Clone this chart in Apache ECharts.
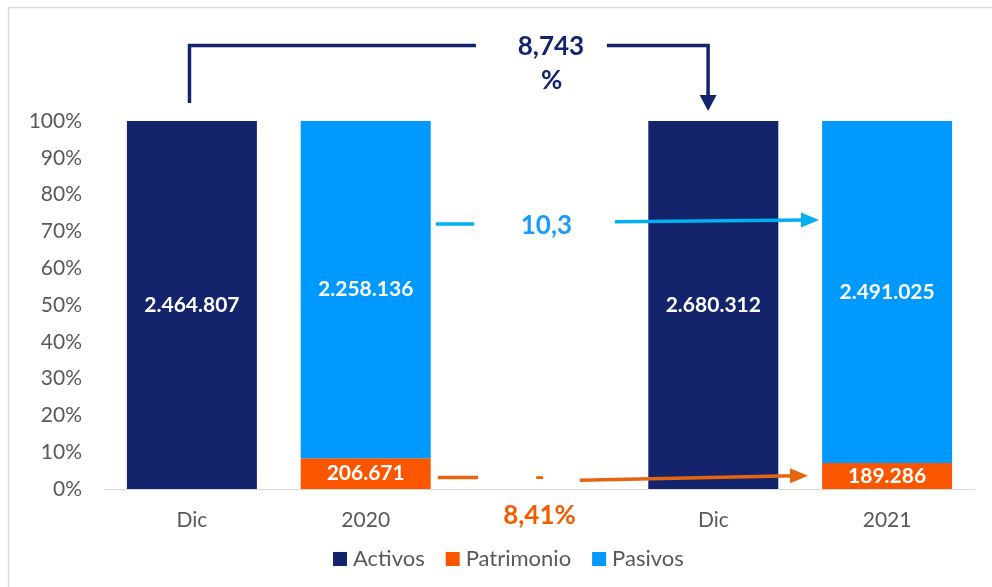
<!DOCTYPE html>
<html>
<head>
<meta charset="utf-8">
<script src="https://cdn.jsdelivr.net/npm/echarts@6/dist/echarts.min.js"></script>
<style>
  html, body { margin: 0; padding: 0; background: #fff; }
  #chart { width: 992px; height: 587px; }
</style>
</head>
<body>
<div id="chart"></div>
<script>
const categories = ["Dic", "2020", "", "Dic", "2021"];
const activos = [2464807, null, null, 2680312, null];
const patrimonio = [null, 206671, null, null, 189286];
const pasivos = [null, 2258136, null, null, 2491025];
const yTicks = [0, 10, 20, 30, 40, 50, 60, 70, 80, 90, 100];

const cAct = "#13236c", cPat = "#fa5600", cPas = "#0099ff";
const font = "Lato";

// totals per column = activos of the same year
const totals = [2464807, 2464807, null, 2680312, 2680312];

function fmt(n) {
  return String(n).replace(/\B(?=(\d{3})+(?!\d))/g, ".");
}
function toPct(arr) {
  return arr.map((v, i) => v == null ? null : { value: v / totals[i] * 100, raw: v });
}

let chart = echarts.init(document.getElementById("chart"), null, { renderer: "canvas" });

const labelStyle = {
  show: true,
  color: "#fff",
  fontFamily: font,
  fontWeight: "bold",
  fontSize: 21,
  formatter: (p) => fmt(p.data.raw)
};

chart.setOption({
  animation: false,
  grid: { left: 105, right: 18, top: 121, bottom: 98 },
  legend: {
    data: ["Activos", "Patrimonio", "Pasivos"],
    left: 333,
    top: 548,
    padding: 0,
    icon: "rect",
    itemWidth: 14,
    itemHeight: 14,
    itemGap: 21,
    textStyle: { fontFamily: font, fontSize: 22, color: "#595959", padding: [0, 0, 0, 1] }
  },
  xAxis: {
    type: "category",
    data: categories,
    axisLine: { lineStyle: { color: "#d9d9d9", width: 1 } },
    axisTick: { show: false },
    axisLabel: { fontFamily: font, fontSize: 21, color: "#595959", margin: 21 }
  },
  yAxis: {
    type: "value",
    min: 0,
    max: 100,
    interval: 10,
    splitLine: { show: false },
    axisLine: { show: false },
    axisTick: { show: false },
    axisLabel: {
      fontFamily: font, fontSize: 21, color: "#595959", margin: 23,
      formatter: (v) => yTicks.includes(v) ? v + "%" : ""
    }
  },
  series: [
    { name: "Activos", type: "bar", stack: "t", barWidth: 130, itemStyle: { color: cAct },
      data: toPct(activos), label: labelStyle },
    { name: "Patrimonio", type: "bar", stack: "t", barWidth: 130, itemStyle: { color: cPat },
      data: toPct(patrimonio), label: labelStyle },
    { name: "Pasivos", type: "bar", stack: "t", barWidth: 130, itemStyle: { color: cPas },
      data: toPct(pasivos), label: labelStyle }
  ]
});

// annotation helpers: category units on x, percent units on y
const x0 = chart.convertToPixel({ xAxisIndex: 0 }, 0);
const x1 = chart.convertToPixel({ xAxisIndex: 0 }, 1);
const y0 = chart.convertToPixel({ yAxisIndex: 0 }, 0);
const y100 = chart.convertToPixel({ yAxisIndex: 0 }, 100);
const px = (c) => x0 + c * (x1 - x0);
const py = (v) => y0 + v * (y100 - y0) / 100;
const P = (c, v) => [px(c), py(v)];

function line(points, color) {
  return { type: "polyline", shape: { points }, style: { stroke: color, lineWidth: 3.5, fill: null }, z: 100 };
}
function head(tip, dir, color, len, half) {
  const [tx, ty] = tip;
  const pts = dir === "down"
    ? [[tx - half, ty - len], [tx + half, ty - len], [tx, ty]]
    : [[tx - len, ty - half], [tx - len, ty + half], [tx, ty]];
  return { type: "polygon", shape: { points: pts }, style: { fill: color }, z: 100 };
}
function text(c, v, str, color) {
  const [x, y] = P(c, v);
  return { type: "text", x, y, z: 100,
    style: { text: str, fill: color, font: `bold 26px ${font}`, align: "center", verticalAlign: "middle" } };
}

const cBlue = "#00b0f0", cBlueTxt = "#1a9cff", cOr = "#e8650f", cOrTxt = "#f45b00";

const tipBlue = P(3.608, 73.1);
const tipOr = P(3.545, 3.6);
const tipNavy = P(2.97, 102.7);

chart.setOption({
  graphic: [
    { type: "rect", shape: { x: 8.5, y: 7.5, width: 1000, height: 700 },
      style: { fill: null, stroke: "#d9d9d9", lineWidth: 1.5 }, z: 0 },
    line([P(-0.014, 104.9), P(-0.014, 120.5), P(1.634, 120.5)], cAct),
    line([P(2.388, 120.5), P(2.97, 120.5), [tipNavy[0], tipNavy[1] - 12]], cAct),
    head(tipNavy, "down", cAct, 16, 8.5),
    text(2.066, 120.1, "8,743", cAct),
    text(2.07, 111.1, "%", cAct),
    line([P(1.404, 72.0), P(1.623, 72.0)], cBlue),
    line([P(2.434, 72.6), [tipBlue[0] - 14, tipBlue[1]]], cBlue),
    head(tipBlue, "right", cBlue, 18, 7.5),
    text(2.04, 71.5, "10,3", cBlueTxt),
    line([P(1.415, 3.1), P(1.646, 3.1)], cOr),
    line([P(2.232, 2.4), [tipOr[0] - 14, tipOr[1]]], cOr),
    head(tipOr, "right", cOr, 18, 7.5),
    text(2, 3.0, "-", cOrTxt),
    text(2, -7.1, "8,41%", cOrTxt)
  ]
});
</script>
</body>
</html>
